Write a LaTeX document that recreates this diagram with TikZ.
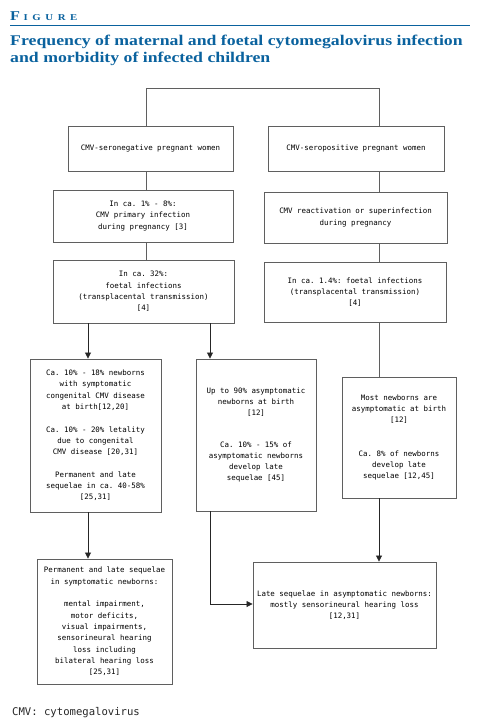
\documentclass[tikz,border=0pt]{standalone}
\usepackage{fontspec}
\setmainfont{Liberation Serif}
\setmonofont{DejaVu Sans Mono}
\newfontfamily\titlefont[FakeStretch=1.2]{Liberation Serif}
\usetikzlibrary{arrows.meta,calc}
\definecolor{figblue}{RGB}{10,98,158}
\definecolor{boxgray}{RGB}{95,95,95}
\tikzset{
  box/.style={draw=boxgray, line width=0.9pt, align=center, inner sep=0pt,
    font=\ttfamily\fontsize{7.45}{11.3}\selectfont},
  conn/.style={draw=boxgray, line width=0.9pt},
  arr/.style={draw=black!85, line width=0.8pt, -{Triangle[length=6pt,width=6pt]}},
  ttl/.style={anchor=base west, inner sep=0pt, text=figblue, font=\titlefont\bfseries\fontsize{14.8}{17}\selectfont}
}
\newcommand{\bx}[6]{\node[box, minimum width={(#4-#2)*1pt}, minimum height={(#5-#3)*1pt}] (#1) at ({(#2+#4)/2},{(#3+#5)/2}) {#6};}
\begin{document}
\begin{tikzpicture}[x=1pt,y=-1pt]
\useasboundingbox (0,0) rectangle (494,720);
% header
\node[anchor=base west, inner sep=0pt, text=figblue, font=\titlefont\bfseries] (fig) at (10,20)
  {\fontsize{13.5}{14}\selectfont F\fontsize{9}{10}\selectfont\hspace{3.5pt}I\hspace{4.6pt}G\hspace{4.6pt}U\hspace{4.6pt}R\hspace{4.6pt}E};
\draw[figblue, line width=1.4pt] (10,25.5) -- (470,25.5);
\node[ttl] (title1) at (10,45.5) {Frequency of maternal and foetal cytomegalovirus infection};
\node[ttl] (title2) at (10,62.5) {and morbidity of infected children};
% boxes
\bx{A}{68}{126}{233}{171}{CMV-seronegative pregnant women}
\bx{B}{268}{126}{444}{171}{CMV-seropositive pregnant women}
\bx{C}{53}{190}{233}{242}{In ca. 1\% - 8\%:\\CMV primary infection\\during pregnancy [3]}
\bx{D}{264}{192}{447}{243}{CMV reactivation or superinfection\\during pregnancy}
\bx{E}{53}{260}{234}{323}{In ca. 32\%:\\foetal infections\\(transplacental transmission)\\{}[4]}
\bx{F}{264}{262}{446}{322}{In ca. 1.4\%: foetal infections\\(transplacental transmission)\\{}[4]}
\bx{G}{30}{359}{161}{512}{Ca. 10\% - 18\% newborns\\with symptomatic\\congenital CMV disease\\at birth[12,20]\\[11.3pt]Ca. 10\% - 20\% letality\\due to congenital\\CMV disease [20,31]\\[11.3pt]Permanent and late\\sequelae in ca. 40-58\%\\{}[25,31]}
\bx{H}{196}{359}{316}{511}{Up to 90\% asymptomatic\\newborns at birth\\{}[12]\\[20pt]Ca. 10\% - 15\% of\\asymptomatic newborns\\develop late\\sequelae [45]}
\bx{I}{342}{377}{456}{498}{Most newborns are\\asymptomatic at birth\\{}[12]\\[22pt]Ca. 8\% of newborns\\develop late\\sequelae [12,45]}
\bx{J}{37}{559}{172}{684}{Permanent and late sequelae\\in symptomatic newborns:\\[11.3pt]mental impairment,\\motor deficits,\\visual impairments,\\sensorineural hearing\\loss including\\bilateral hearing loss\\{}[25,31]}
\bx{K}{253}{562}{436}{648}{Late sequelae in asymptomatic newborns:\\mostly sensorineural hearing loss\\{}[12,31]}
% connectors
\coordinate (tl) at (146,88);
\coordinate (tr) at (379,88);
\draw[conn] (tl |- A.north) -- (tl) -- (tr) -- (tr |- B.north);
\draw[conn] (tl |- A.south) -- (tl |- C.north);
\draw[conn] (tl |- C.south) -- (tl |- E.north);
\draw[conn] (tr |- B.south) -- (tr |- D.north);
\draw[conn] (tr |- D.south) -- (tr |- F.north);
\draw[conn] (tr |- F.south) -- (tr |- I.north);
\coordinate (c1) at (88,0);
\coordinate (c2) at (210,0);
\coordinate (hk) at (210,604);
\draw[arr] (c1 |- E.south) -- (c1 |- G.north);
\draw[arr] (c2 |- E.south) -- (c2 |- H.north);
\draw[arr] (c1 |- G.south) -- (c1 |- J.north);
\draw[arr] (c2 |- H.south) -- (hk) -- (hk -| K.west);
\draw[arr] (tr |- I.south) -- (tr |- K.north);
% footer
\node[anchor=base west, inner sep=0pt, font=\ttfamily\fontsize{10.6}{12}\selectfont, text=black!85] (foot) at (12,715) {CMV: cytomegalovirus};
\end{tikzpicture}
\end{document}
